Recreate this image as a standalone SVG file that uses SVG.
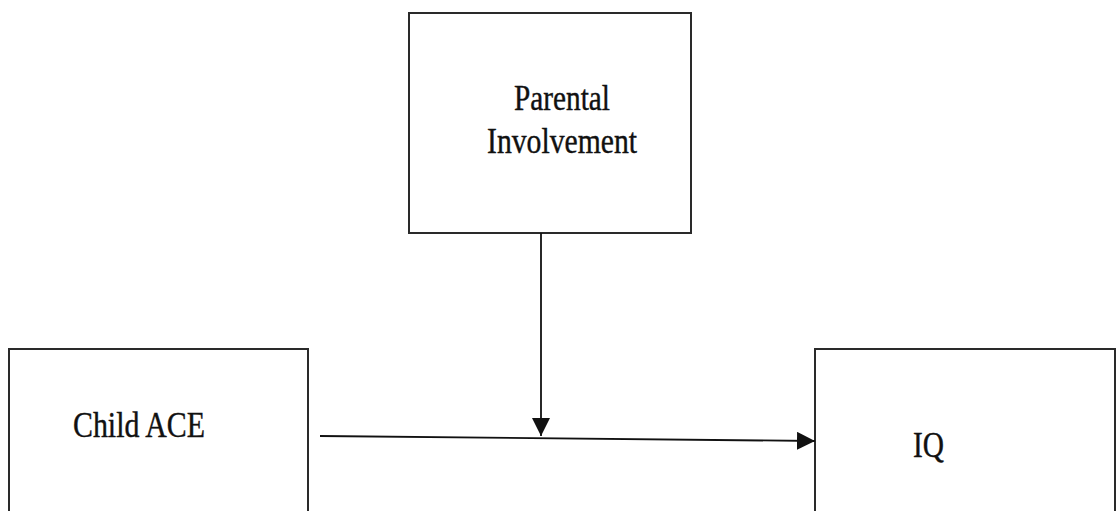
<svg xmlns="http://www.w3.org/2000/svg" width="1118" height="511" viewBox="0 0 1118 511">
  <style>
    .box { fill: #ffffff; stroke: #2a2a2a; stroke-width: 2; }
    .label { font-family: "Liberation Serif", "Times New Roman", serif; font-size: 35px; fill: #111111; stroke: #111111; stroke-width: 0.4; }
    .edge { stroke: #111111; stroke-width: 1.8; fill: none; }
  </style>
  <defs>
    <marker id="arrowhead" markerUnits="userSpaceOnUse" markerWidth="18" markerHeight="18" refX="18" refY="9" orient="auto">
      <path d="M0,0 L18,9 L0,18 Z" fill="#111111"/>
    </marker>
  </defs>
  <rect width="1118" height="511" fill="#ffffff"/>

  <g id="node-parental">
    <rect class="box" x="409" y="13" width="282" height="220"/>
    <text class="label" x="562" y="110" text-anchor="middle" textLength="96" lengthAdjust="spacingAndGlyphs">Parental</text>
    <text class="label" x="562" y="153" text-anchor="middle" textLength="150" lengthAdjust="spacingAndGlyphs">Involvement</text>
  </g>

  <g id="node-child-ace">
    <rect class="box" x="9" y="349" width="299" height="175"/>
    <text class="label" x="73" y="437" textLength="132" lengthAdjust="spacingAndGlyphs">Child ACE</text>
  </g>

  <g id="node-iq">
    <rect class="box" x="815" y="349" width="300" height="175"/>
    <text class="label" x="913" y="457" textLength="31" lengthAdjust="spacingAndGlyphs">IQ</text>
  </g>

  <g id="connectors">
    <line class="edge" x1="320" y1="436" x2="815" y2="441" marker-end="url(#arrowhead)"/>
    <line class="edge" x1="541" y1="233" x2="541" y2="436" marker-end="url(#arrowhead)"/>
  </g>
</svg>
